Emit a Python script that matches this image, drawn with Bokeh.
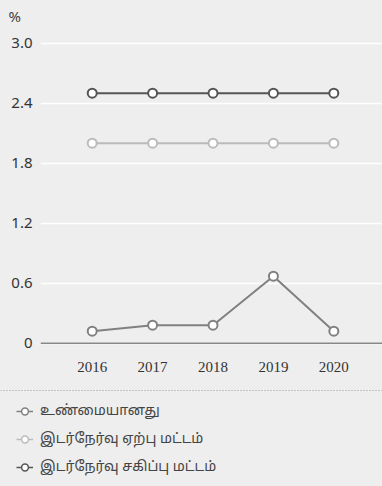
from bokeh.plotting import figure
from bokeh.layouts import column
from bokeh.models import (Range1d, FixedTicker, PrintfTickFormatter, Span, Legend,
                          LegendItem, ColumnDataSource, GlobalInlineStyleSheet)
from bokeh.embed import file_html
from bokeh.resources import INLINE

# ---- data ----
years = [2016, 2017, 2018, 2019, 2020]
actual = [0.12, 0.18, 0.18, 0.67, 0.12]
acceptance = [2.0, 2.0, 2.0, 2.0, 2.0]
tolerance = [2.5, 2.5, 2.5, 2.5, 2.5]
y_ticks = [0, 0.6, 1.2, 1.8, 2.4, 3.0]
series_labels = ["உண்மையானது", "இடர்நேர்வு ஏற்பு மட்டம்", "இடர்நேர்வு சகிப்பு மட்டம்"]
unit_label = "%"

BG = "#eeeeee"
COL_ACTUAL = "#808080"
COL_ACCEPT = "#bbbbbb"
COL_TOL = "#555555"

p = figure(frame_width=342, frame_height=315, output_backend="svg", toolbar_location=None,
           x_range=Range1d(2015.144, 2020.806), y_range=Range1d(-0.023, 3.127),
           min_border_left=40, min_border_right=0, min_border_top=30, min_border_bottom=44)
p.frame_align = False
p.background_fill_color = BG
p.border_fill_color = BG
p.outline_line_color = None

p.title.text = unit_label
p.title.align = "left"
p.title.offset = -32
p.title.standoff = 6
p.title.vertical_align = "top"
p.title.text_font = "Noto Sans"
p.title.text_font_size = "15px"
p.title.text_font_style = "normal"
p.title.text_color = "#444444"

p.xgrid.visible = False
p.ygrid.grid_line_color = "white"
p.ygrid.grid_line_width = 1.5

p.yaxis.ticker = FixedTicker(ticks=y_ticks)
p.yaxis.formatter = PrintfTickFormatter(format="%.1f")
p.yaxis.major_label_overrides = {0: "0"}
p.xaxis.ticker = FixedTicker(ticks=years)
for ax in (p.xaxis, p.yaxis):
    ax.axis_line_color = None
    ax.major_tick_line_color = None
    ax.minor_tick_line_color = None
    ax.major_tick_out = 0
    ax.major_tick_in = 0
    ax.minor_tick_out = 0
p.yaxis.major_label_text_font = "Noto Sans"
p.yaxis.major_label_text_font_size = "15px"
p.yaxis.major_label_text_color = "#333333"
p.yaxis.major_label_standoff = 8
p.xaxis.major_label_text_font = "Liberation Serif"
p.xaxis.major_label_text_font_size = "15px"
p.xaxis.major_label_text_color = "#333333"
p.xaxis.major_label_standoff = 16

p.add_layout(Span(location=0, dimension="width", line_color="#888888", line_width=1.5))

for vals, col in ((actual, COL_ACTUAL), (acceptance, COL_ACCEPT), (tolerance, COL_TOL)):
    p.line(years, vals, line_color=col, line_width=2)
    p.scatter(years, vals, marker="circle", size=9, fill_color="white",
              line_color=col, line_width=2)

# ---- legend panel ----
p2 = figure(width=382, height=96, output_backend="svg", toolbar_location=None,
            x_range=Range1d(0, 1), y_range=Range1d(0, 96),
            x_axis_type=None, y_axis_type=None, min_border=0,
            min_border_left=0, min_border_right=0, min_border_top=0, min_border_bottom=0)
p2.frame_align = False
p2.background_fill_color = BG
p2.border_fill_color = BG
p2.outline_line_color = None
p2.grid.visible = False
p2.add_layout(Span(location=95, dimension="width", line_color="#999999",
                   line_width=1, line_dash="1 2"))

items = []
nan = float("nan")
for lab, col in zip(series_labels, (COL_ACTUAL, COL_ACCEPT, COL_TOL)):
    src = ColumnDataSource(data=dict(x=[nan], y=[nan]))
    lr = p2.line("x", "y", source=src, line_color=col, line_width=1.5)
    sr = p2.scatter("x", "y", source=src, marker="circle", size=8, fill_color="white",
                    line_color=col, line_width=1.5)
    items.append(LegendItem(label=lab, renderers=[lr, sr]))

leg = Legend(items=items, location=(16, 8), padding=0, margin=0, spacing=8,
             glyph_width=17, glyph_height=20, label_height=20, label_standoff=7,
             label_text_font="'Noto Sans Tamil', 'Noto Sans', sans-serif",
             label_text_font_size="14px", label_text_color="#444444",
             background_fill_alpha=0, border_line_color=None)
p2.add_layout(leg)

layout = column(p, p2, spacing=0)
layout.stylesheets = [GlobalInlineStyleSheet(css="body { background-color: #eeeeee; }")]

open("out.html", "w").write(file_html(layout, INLINE))
